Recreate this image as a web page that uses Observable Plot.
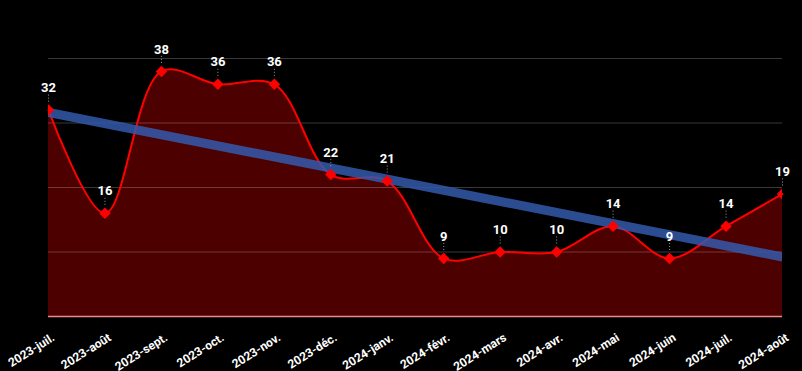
<!DOCTYPE html>
<html>
<head>
<meta charset="utf-8">
<script src="https://cdn.jsdelivr.net/npm/d3@7"></script>
<script src="https://cdn.jsdelivr.net/npm/@observablehq/plot@0.6"></script>
<style>
  html, body { margin: 0; padding: 0; background: #000; }
  #chart svg { display: block; }
</style>
</head>
<body>
<div id="chart"></div>
<script>
const months = ["2023-juil.", "2023-août", "2023-sept.", "2023-oct.", "2023-nov.", "2023-déc.", "2024-janv.", "2024-févr.", "2024-mars", "2024-avr.", "2024-mai", "2024-juin", "2024-juil.", "2024-août"];
const counts = [32, 16, 38, 36, 36, 22, 21, 9, 10, 10, 14, 9, 14, 19];
const gridTicks = [10, 20, 30, 40];

const data = months.map((m, i) => ({i, month: m, v: counts[i]}));

const chart = Plot.plot({
  width: 802,
  height: 371,
  marginLeft: 48,
  marginRight: 20,
  marginTop: 58,
  marginBottom: 55,
  style: {background: "#000", color: "#fff", fontFamily: "Roboto, sans-serif"},
  x: {type: "linear", domain: [0, months.length - 1]},
  y: {domain: [0, 40], axis: null},
  marks: [
    Plot.areaY(data, {x: "i", y: "v", curve: "catmull-rom", fill: "#4d0000"}),
    Plot.gridY(gridTicks, {stroke: "#fff", strokeOpacity: 0.22, strokeWidth: 1}),
    Plot.ruleY([0], {stroke: "#f08a8a", strokeWidth: 1.5}),
    Plot.lineY(data, {x: "i", y: "v", curve: "catmull-rom", stroke: "#ff0000", strokeWidth: 2}),
    Plot.linearRegressionY(data, {x: "i", y: "v", ci: 0, stroke: "#3459ab", strokeOpacity: 0.85, strokeWidth: 9, strokeLinecap: "butt", clip: true}),
    Plot.ruleX(data, {x: "i", y1: "v", y2: "v", insetTop: -15, insetBottom: 7, stroke: "#999", strokeWidth: 1, strokeDasharray: "1,2"}),
    Plot.dot(data, {x: "i", y: "v", symbol: "square", rotate: 45, r: 4.6, fill: "#ff0000", stroke: "none", clip: true}),
    Plot.text(data, {x: "i", y: "v", text: d => String(d.v), dy: -22, fill: "#fff", fontSize: 13, fontWeight: "bold"}),
    Plot.axisX({
      ticks: d3.range(months.length),
      tickFormat: i => months[i],
      label: null,
      tickSize: 0,
      tickPadding: 20,
      dx: 5,
      tickRotate: -32,
      fontSize: 12,
      fontWeight: "bold",
      fill: "#fff"
    })
  ]
});
document.getElementById("chart").appendChild(chart);
</script>
</body>
</html>
